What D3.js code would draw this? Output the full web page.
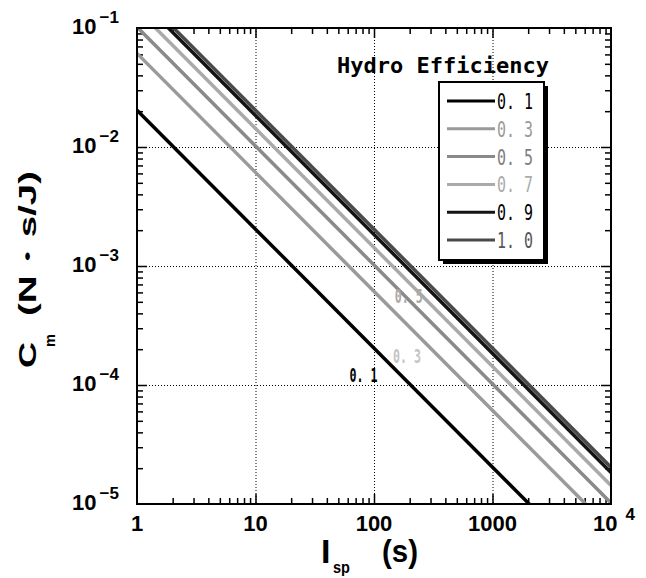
<!DOCTYPE html>
<html>
<head>
<meta charset="utf-8">
<script src="https://cdn.jsdelivr.net/npm/d3@7"></script>
<style>
  body { margin: 0; background: #fff; }
  svg { display: block; }
</style>
</head>
<body>
<svg id="chart" width="646" height="578"></svg>
<script>
'use strict';

// Hydro efficiency series
const efficiencies = ['0.1', '0.3', '0.5', '0.7', '0.9', '1.0'];
const ispEnds = [1, 10000];
const cmAtStart = [0.0204, 0.0612, 0.102, 0.143, 0.184, 0.204];
const cmAtEnd = [2.04e-6, 6.12e-6, 1.02e-5, 1.43e-5, 1.84e-5, 2.04e-5];

const xTickValues = [1, 10, 100, 1000];
const xTickLabels = ['1', '10', '100', '1000'];
const yExponents = [-1, -2, -3, -4, -5];

// in-plot annotations
const noteLabels = ['0.1', '0.3', '0.5'];
const noteIsp = [62, 145, 150];
const noteCm = [1.06e-4, 1.53e-4, 4.9e-4];

const lineColors = ['#000', '#9a9a9a', '#8a8a8a', '#aaaaaa', '#141414', '#4a4a4a'];
const legendTextColors = ['#000', '#9a9a9a', '#7e7e7e', '#ababab', '#000', '#555'];
const noteColors = ['#000', '#c4c4c4', '#a8a8a8'];

const svg = d3.select('#chart');
const pLeft = 137, pRight = 611, pTop = 28, pBottom = 504;

const x = d3.scaleLog().domain([1, 1e4]).range([pLeft, pRight]);
const y = d3.scaleLog().domain([1e-5, 1e-1]).range([pBottom, pTop]);

const numFont = '"Liberation Sans", Arial, sans-serif';
const monoFont = '"DejaVu Sans Mono", monospace';

svg.append('defs').append('clipPath').attr('id', 'clip')
    .append('rect')
    .attr('x', pLeft).attr('y', pTop)
    .attr('width', pRight - pLeft).attr('height', pBottom - pTop);

// grid
const grid = svg.append('g')
    .attr('stroke', '#000')
    .attr('stroke-width', 1)
    .attr('stroke-dasharray', '1,2');
grid.selectAll('.gx')
    .data([10, 100, 1000])
    .enter().append('line')
    .attr('x1', d => x(d) + 0.5).attr('x2', d => x(d) + 0.5)
    .attr('y1', pTop).attr('y2', pBottom);
grid.selectAll('.gy')
    .data([1e-2, 1e-3, 1e-4])
    .enter().append('line')
    .attr('y1', d => y(d) + 0.5).attr('y2', d => y(d) + 0.5)
    .attr('x1', pLeft).attr('x2', pRight);

// minor/major ticks on all four sides
const minorX = [];
for (let e = 0; e < 4; e++) for (let m = 2; m <= 9; m++) minorX.push(m * Math.pow(10, e));
const minorY = [];
for (let e = -5; e < -1; e++) for (let m = 2; m <= 9; m++) minorY.push(m * Math.pow(10, e));

function drawTicks(axisFn, scale, values, size, transform) {
    const g = svg.append('g')
        .attr('transform', transform)
        .call(axisFn(scale).tickValues(values).tickSizeInner(-size).tickSizeOuter(0).tickFormat(''));
    g.select('.domain').remove();
    g.selectAll('line').attr('stroke', '#000').attr('stroke-width', 1.5);
}
drawTicks(d3.axisBottom, x, minorX, 6, `translate(0,${pBottom})`);
drawTicks(d3.axisBottom, x, [10, 100, 1000], 10, `translate(0,${pBottom})`);
drawTicks(d3.axisTop, x, minorX, 6, `translate(0,${pTop})`);
drawTicks(d3.axisTop, x, [10, 100, 1000], 10, `translate(0,${pTop})`);
drawTicks(d3.axisLeft, y, minorY, 6, `translate(${pLeft},0)`);
drawTicks(d3.axisLeft, y, [1e-2, 1e-3, 1e-4], 10, `translate(${pLeft},0)`);
drawTicks(d3.axisRight, y, minorY, 6, `translate(${pRight},0)`);
drawTicks(d3.axisRight, y, [1e-2, 1e-3, 1e-4], 10, `translate(${pRight},0)`);

// series lines
const line = d3.line().x(d => x(d[0])).y(d => y(d[1]));
svg.append('g')
    .attr('clip-path', 'url(#clip)')
    .selectAll('path')
    .data(efficiencies.map((e, i) => [[ispEnds[0], cmAtStart[i]], [ispEnds[1], cmAtEnd[i]]]))
    .enter().append('path')
    .attr('d', line)
    .attr('fill', 'none')
    .attr('stroke', (d, i) => lineColors[i])
    .attr('stroke-width', 3.5);

// frame
svg.append('rect')
    .attr('x', pLeft).attr('y', pTop)
    .attr('width', pRight - pLeft).attr('height', pBottom - pTop)
    .attr('fill', 'none')
    .attr('stroke', '#000')
    .attr('stroke-width', 2);

// x tick labels
svg.append('g').selectAll('text')
    .data(xTickValues)
    .enter().append('text')
    .attr('x', d => x(d))
    .attr('y', 531)
    .attr('text-anchor', 'middle')
    .attr('font-family', numFont)
    .attr('font-weight', 'bold')
    .attr('font-size', 22)
    .text((d, i) => xTickLabels[i]);
const x4 = svg.append('text')
    .attr('x', x(1e4) - 18)
    .attr('y', 531)
    .attr('font-family', numFont)
    .attr('font-weight', 'bold')
    .attr('font-size', 22);
x4.append('tspan').text('10');
x4.append('tspan').attr('dx', 8).attr('dy', -11).attr('font-size', 17).text('4');

// y tick labels
const yLab = svg.append('g').selectAll('text')
    .data(yExponents)
    .enter().append('text')
    .attr('x', 72)
    .attr('y', d => y(Math.pow(10, d)) + 6)
    .attr('font-family', numFont)
    .attr('font-weight', 'bold')
    .attr('font-size', 22);
yLab.append('tspan').text('10');
yLab.append('tspan')
    .attr('dx', 3).attr('dy', -11)
    .attr('font-size', 17)
    .text(d => '\u2212' + Math.abs(d));

// in-plot annotations
svg.append('g').selectAll('text')
    .data(noteLabels)
    .enter().append('text')
    .attr('x', (d, i) => x(noteIsp[i]))
    .attr('y', (d, i) => y(noteCm[i]))
    .attr('font-family', monoFont)
    .attr('font-weight', 'bold')
    .attr('font-size', 19)
    .attr('textLength', 28)
    .attr('lengthAdjust', 'spacingAndGlyphs')
    .attr('fill', (d, i) => noteColors[i])
    .text(d => d.replace('.', '. '));

// legend
svg.append('text')
    .attr('x', 337).attr('y', 73)
    .attr('font-family', monoFont)
    .attr('font-weight', 'bold')
    .attr('font-size', 22)
    .attr('textLength', 212)
    .attr('lengthAdjust', 'spacingAndGlyphs')
    .text('Hydro Efficiency');

const legend = svg.append('g');
legend.append('rect')
    .attr('x', 443).attr('y', 86)
    .attr('width', 105).attr('height', 178)
    .attr('fill', '#000');
legend.append('rect')
    .attr('x', 439).attr('y', 82)
    .attr('width', 105).attr('height', 178)
    .attr('fill', '#fff')
    .attr('stroke', '#000')
    .attr('stroke-width', 2);

const rows = legend.selectAll('.row')
    .data(efficiencies)
    .enter().append('g')
    .attr('transform', (d, i) => `translate(0,${101 + i * 27.8})`);
rows.append('line')
    .attr('x1', 447).attr('x2', 495)
    .attr('stroke', (d, i) => lineColors[i])
    .attr('stroke-width', 3);
rows.append('text')
    .attr('x', 497).attr('y', 8)
    .attr('font-family', monoFont)
    .attr('font-size', 21)
    .attr('textLength', 36)
    .attr('lengthAdjust', 'spacingAndGlyphs')
    .attr('fill', (d, i) => legendTextColors[i])
    .text(d => d.replace('.', '. '));

// axis titles
const titleFont = numFont;
const yTitle = svg.append('g').attr('transform', 'translate(36,0) rotate(-90)')
    .attr('font-family', titleFont)
    .attr('font-weight', 'bold');
yTitle.append('text')
    .attr('x', -368).attr('y', 0)
    .attr('font-size', 24)
    .attr('textLength', 26).attr('lengthAdjust', 'spacingAndGlyphs')
    .text('C');
yTitle.append('text')
    .attr('x', -347).attr('y', 19)
    .attr('font-size', 15)
    .attr('textLength', 13).attr('lengthAdjust', 'spacingAndGlyphs')
    .text('m');
yTitle.append('text')
    .attr('x', -316).attr('y', 0)
    .attr('font-size', 24)
    .attr('textLength', 145).attr('lengthAdjust', 'spacingAndGlyphs')
    .text('(N\u30FBs/J)');

const xTitle = svg.append('g')
    .attr('font-family', titleFont)
    .attr('font-weight', 'bold');
xTitle.append('text')
    .attr('x', 321).attr('y', 563)
    .attr('font-size', 34)
    .text('I');
xTitle.append('text')
    .attr('x', 333).attr('y', 573)
    .attr('font-size', 17)
    .attr('textLength', 17).attr('lengthAdjust', 'spacingAndGlyphs')
    .text('sp');
xTitle.append('text')
    .attr('x', 382).attr('y', 562)
    .attr('font-size', 32)
    .attr('textLength', 36).attr('lengthAdjust', 'spacingAndGlyphs')
    .text('(s)');
</script>
</body>
</html>
